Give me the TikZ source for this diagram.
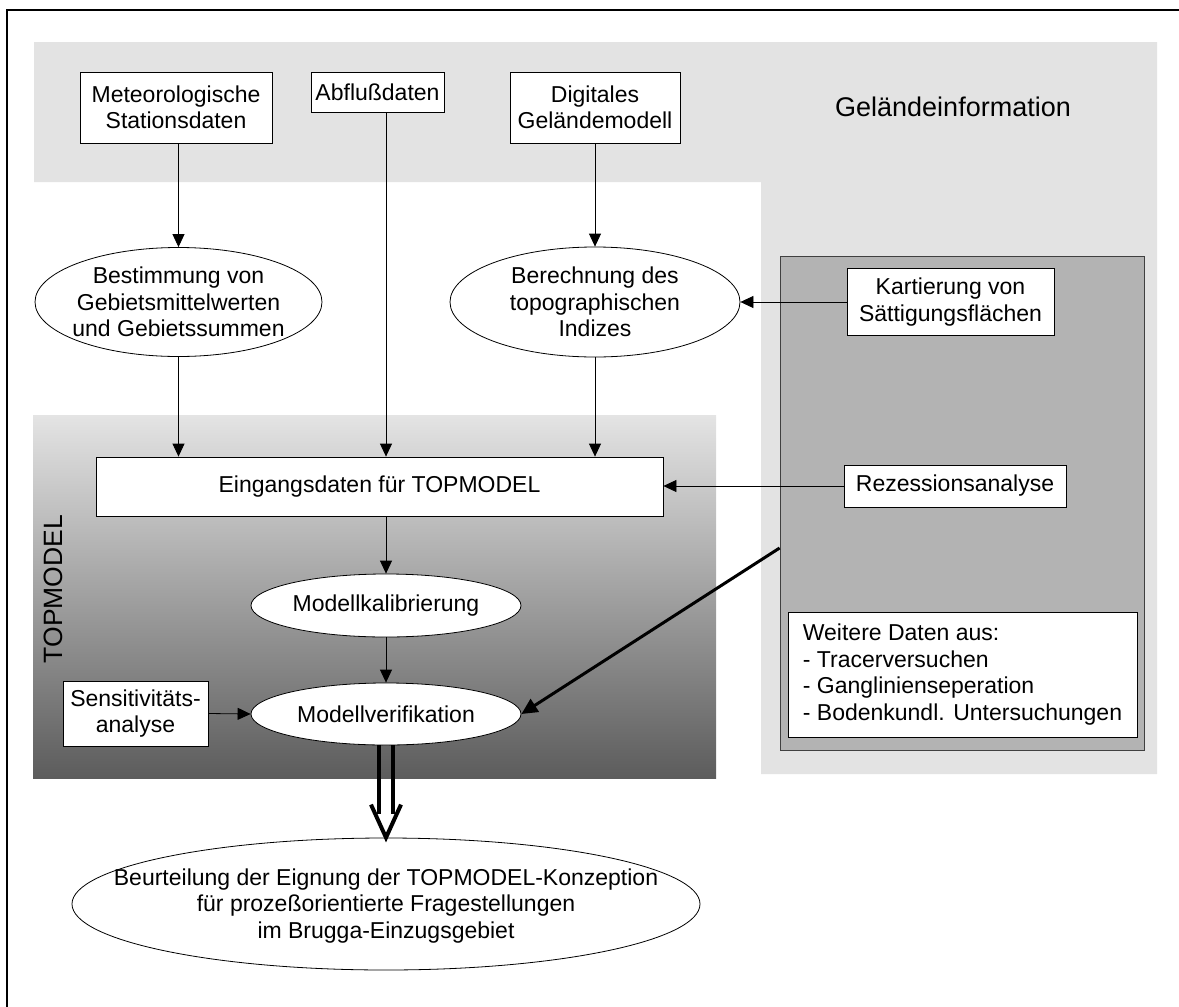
\documentclass[tikz,border=0pt]{standalone}
\usepackage{fontspec}
\setmainfont{Liberation Sans}
\usepackage{xcolor}
\definecolor{hell}{HTML}{E3E3E3}
\definecolor{mittel}{HTML}{B3B3B3}
\definecolor{oben}{HTML}{E4E4E4}
\definecolor{unten}{HTML}{5C5C5C}
\usepackage{tikz}
\usetikzlibrary{shapes,arrows.meta}
\usetikzlibrary{positioning}
\tikzstyle{block} = [rectangle, draw, fill=white, align=center, inner sep=0pt, line width=0.8pt]
\tikzstyle{oval} = [ellipse, draw, fill=white, inner sep=0pt, line width=0.8pt]
\tikzstyle{ovaltext} = [align=center, inner sep=0pt]
\tikzstyle{line} = [draw, line width=0.8pt, -{Triangle[length=13pt,width=12pt]}]
\tikzstyle{fat} = [line width=4pt]

\begin{document}
\begin{tikzpicture}[x=1pt,y=-1pt,font=\fontsize{23}{26.5}\selectfont]
    \useasboundingbox (0,0) rectangle (1179,1007);
    % Background areas
    \fill[hell] (34,42) -- (1157,42) -- (1157,774) -- (761,774) -- (761,182) -- (34,182) -- cycle;
    \fill[top color=oben, bottom color=unten] (33,415) rectangle (716,778);
    \node[rectangle, draw=black!75, fill=mittel, line width=0.8pt, minimum width=364pt, minimum height=494pt, inner sep=0pt] (feld) at (962,503) {};
    \draw[line width=1.5pt] (7,1007) -- (7,10) -- (1179,10);
    \node (gelaende) at (953,107) {\fontsize{27}{30}\selectfont Geländeinformation};
    \node[rotate=90] (topm) at (53,589) {\fontsize{26.5}{30}\selectfont TOPMODEL};

    % Place nodes
    \node[block, minimum width=192pt, minimum height=71pt] (meteo) at (176,107.5) {Meteorologische\\Stationsdaten};
    \node[block, minimum width=133pt, minimum height=40pt] (abfluss) at (377.5,92) {Abflußdaten};
    \node[block, minimum width=170pt, minimum height=71pt] (dgm) at (595,107.5) {Digitales\\Geländemodell};
    \node[oval, minimum width=287pt, minimum height=109pt] (bestimm) at (178.5,302) {};
    \node[ovaltext] at (bestimm) {Bestimmung von\\Gebietsmittelwerten\\und Gebietssummen};
    \node[oval, minimum width=290pt, minimum height=110pt] (berech) at (595,302) {};
    \node[ovaltext] at (berech) {Berechnung des\\topographischen\\Indizes};
    \node[block, minimum width=207pt, minimum height=67pt] (kart) at (950.5,302) {Kartierung von\\Sättigungsflächen};
    \node[block, minimum width=567pt, minimum height=59pt] (eingang) at (379.5,486.5) {Eingangsdaten für TOPMODEL};
    \node[block, minimum width=222pt, minimum height=42pt] (rez) at (955,486) {Rezessionsanalyse};
    \node[oval, minimum width=270pt, minimum height=63pt] (kalib) at (386,605.5) {};
    \node[ovaltext] at (kalib) {Modellkalibrierung};
    \node[oval, minimum width=270pt, minimum height=62pt] (verif) at (386,714) {};
    \node[ovaltext] at (verif) {Modellverifikation};
    \node[block, minimum width=145pt, minimum height=65pt] (sens) at (135.5,713.5) {Sensitivitäts-\\analyse};
    \node[block, minimum width=349pt, minimum height=125pt, align=left] (weitere) at (962.5,674.5) {Weitere Daten aus:\\- Tracerversuchen\\- Ganglinienseperation\\- Bodenkundl. Untersuchungen};
    \node[oval, minimum width=628pt, minimum height=132pt] (beurt) at (386,904) {};
    \node[ovaltext] at ([yshift=-2pt]beurt.center) {Beurteilung der Eignung der TOPMODEL-Konzeption\\für prozeßorientierte Fragestellungen\\im Brugga-Einzugsgebiet};

    % Draw edges
    \path [line] (meteo.south -| bestimm.north) -- (bestimm.north);
    \path [line] (bestimm.south) -- (bestimm.south |- eingang.north);
    \path [line] ([xshift=8.5pt]abfluss.south) -- ([xshift=8.5pt]abfluss.south |- eingang.north);
    \path [line] (dgm.south) -- (berech.north);
    \path [line] (berech.south) -- (berech.south |- eingang.north);
    \path [line] (kart.west) -- (berech.east);
    \path [line] (rez.west) -- (rez.west -| eingang.east);
    \path [line] (kalib.north |- eingang.south) -- (kalib.north);
    \path [line] (kalib.south) -- (verif.north);
    \path [line] (sens.east) -- (verif.west);
    \path [draw, line width=3pt, -{Triangle[length=16pt,width=15pt]}] ([yshift=-45pt]feld.west) -- (verif.east);

    % double arrow to the result
    \draw[fat] ([xshift=-7pt]verif.south) -- ([xshift=-7pt,yshift=24pt]beurt.north);
    \draw[fat] ([xshift=7pt]verif.south) -- ([xshift=7pt,yshift=24pt]beurt.north);
    \draw[fat] ([xshift=-15pt,yshift=33pt]beurt.north) -- (beurt.north) -- ([xshift=15pt,yshift=33pt]beurt.north);
\end{tikzpicture}
\end{document}
